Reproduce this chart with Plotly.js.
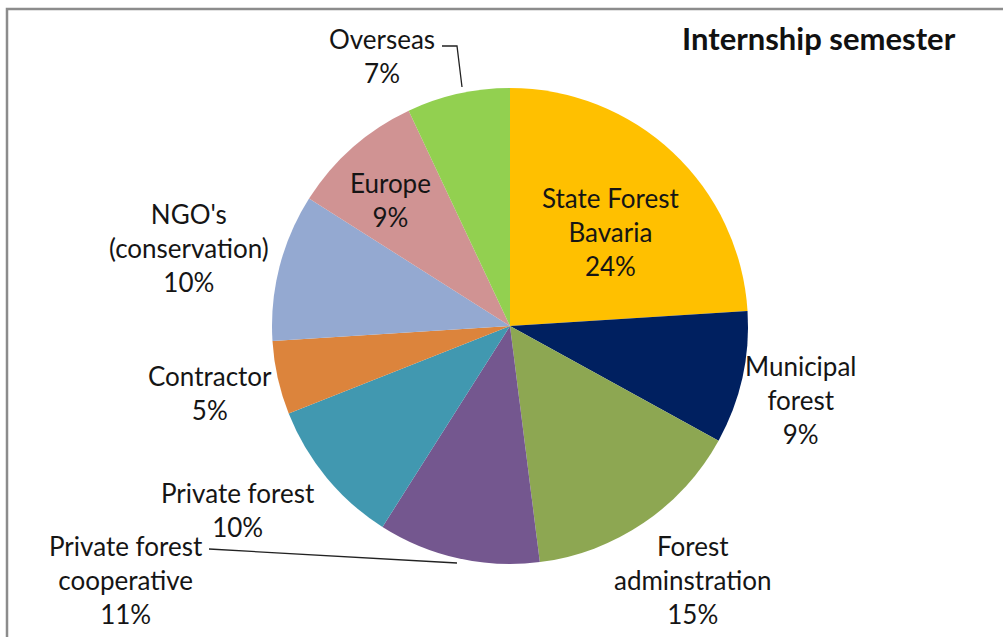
<!DOCTYPE html>
<html>
<head>
<meta charset="utf-8">
<script src="https://cdn.plot.ly/plotly-3.0.1.min.js"></script>
<style>
html,body{margin:0;padding:0;background:#fff;}
#chart{width:1003px;height:637px;}
</style>
</head>
<body>
<div id="chart"></div>
<script>
// ---- data ----
const categories = ["State Forest<br>Bavaria", "Municipal<br>forest", "Forest<br>adminstration",
  "Private forest<br>cooperative", "Private forest", "Contractor", "NGO's<br>(conservation)", "Europe", "Overseas"];
const values = [24, 9, 15, 11, 10, 5, 10, 9, 7];
const colors = ["#FFC000", "#002060", "#8DA752", "#74578F", "#4198B0", "#DC843C", "#94A9D1", "#D09393", "#92D050"];
const chartTitle = "Internship semester";

// ---- layout helpers (pixel -> paper) ----
const W = 1003, H = 637;
const px = x => x / W;
const py = y => 1 - y / H;
// label block centres in pixels
const labelPos = [[610, 232], [800, 400], [692, 580], [126, 580], [238, 510], [210, 393], [189, 248], [390, 200], [382, 56]];

const fontFam = "Lato, 'Open Sans', sans-serif";
const annotations = categories.map((c, i) => ({
  text: c + "<br>" + values[i] + "%",
  x: px(labelPos[i][0]), y: py(labelPos[i][1]),
  xref: "paper", yref: "paper", xanchor: "center", yanchor: "middle",
  showarrow: false, align: "center",
  font: {family: fontFam, size: 26, color: "#151515"}
}));
annotations.push({
  text: "<b>" + chartTitle + "</b>",
  x: px(819), y: py(38), xref: "paper", yref: "paper",
  xanchor: "center", yanchor: "middle", showarrow: false,
  font: {family: fontFam, size: 31, color: "#111"}
});

const pathPx = pts => pts.map((p, i) => (i ? "L" : "M") + px(p[0]) + "," + py(p[1])).join(" ");
const shapes = [
  {type: "path", xref: "paper", yref: "paper", path: pathPx([[7, 640], [7, 9], [1003, 9]]),
   line: {color: "#8c8c8c", width: 2.5}},
  {type: "path", xref: "paper", yref: "paper", path: pathPx([[442, 46], [457, 46], [462, 87]]),
   line: {color: "#222", width: 1.3}},
  {type: "path", xref: "paper", yref: "paper", path: pathPx([[209, 549], [457, 563]]),
   line: {color: "#222", width: 1.3}}
];

const trace = {
  type: "pie",
  labels: categories,
  values: values,
  sort: false,
  direction: "clockwise",
  rotation: 0,
  textinfo: "none",
  hoverinfo: "label+percent",
  marker: {colors: colors, line: {width: 0}},
  domain: {x: [px(272), px(748)], y: [py(568), py(84)]},
  showlegend: false
};

Plotly.newPlot("chart", [trace], {
  width: W, height: H,
  margin: {l: 0, r: 0, t: 0, b: 0},
  paper_bgcolor: "#fff",
  showlegend: false,
  annotations: annotations,
  shapes: shapes
}, {displayModeBar: false, staticPlot: true});
</script>
</body>
</html>
